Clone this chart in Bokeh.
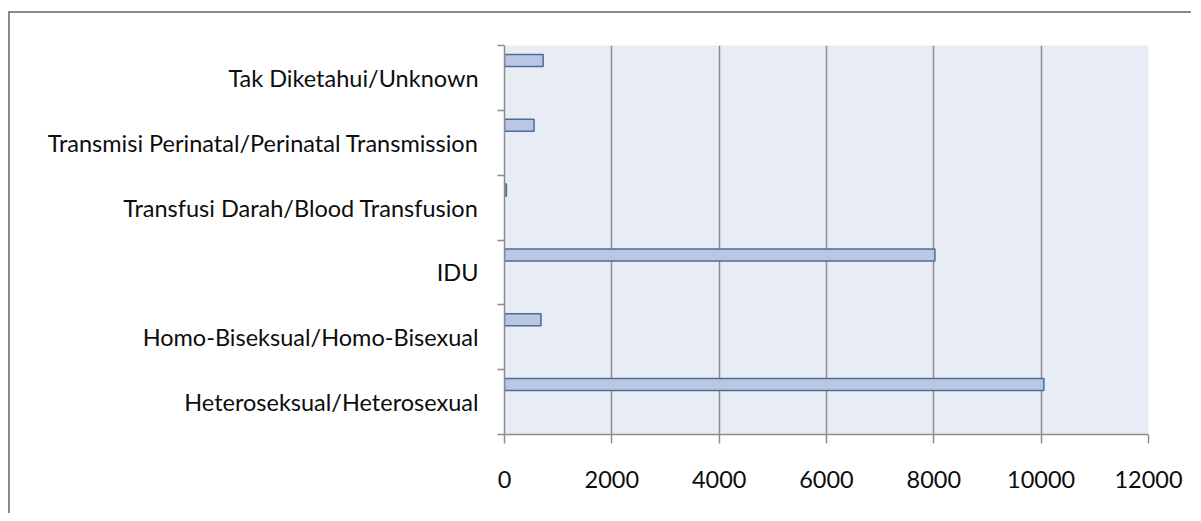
from bokeh.plotting import figure
from bokeh.models import Range1d, FixedTicker, ColumnDataSource
from bokeh.embed import file_html
from bokeh.resources import INLINE

# ---- data ----
categories = [
    "Heteroseksual/Heterosexual",
    "Homo-Biseksual/Homo-Bisexual",
    "IDU",
    "Transfusi Darah/Blood Transfusion",
    "Transmisi Perinatal/Perinatal Transmission",
    "Tak Diketahui/Unknown",
]
values = [10050, 680, 8020, 35, 550, 720]
x_ticks = [0, 2000, 4000, 6000, 8000, 10000, 12000]

FONT = "Lato"
n = len(categories)
centers = [i + 0.5 for i in range(n)]
boundaries = list(range(n + 1))
bar_offset = 0.27
src = ColumnDataSource(dict(y=[c + bar_offset for c in centers], right=values, cat=categories))

p = figure(
    frame_width=644, frame_height=389,
    x_range=Range1d(0, 12000), y_range=Range1d(0, n),
    output_backend="svg", toolbar_location=None,
    min_border_left=494, min_border_top=32, min_border_right=43, min_border_bottom=79,
    background_fill_color="#E8ECF4", border_fill_color="white",
)
p.outline_line_color = None
p.styles = {"border-top": "2px solid #8a8a8a", "border-left": "2px solid #8a8a8a",
            "margin-top": "11px", "margin-left": "8px"}

p.hbar(y="y", left=0, right="right", height=0.185, source=src,
       fill_color="#B9C7E2", line_color="#4D6B9C", line_width=1.5)

# x axis
xa = p.xaxis[0]
xa.ticker = FixedTicker(ticks=x_ticks, minor_ticks=[])
xa.axis_line_color = "#8c8c8c"
xa.axis_line_width = 1.5
xa.major_tick_line_color = "#8c8c8c"
xa.major_tick_line_width = 1.5
xa.major_tick_out = 9
xa.major_tick_in = 0
xa.minor_tick_line_color = None
xa.major_label_text_font = FONT
xa.major_label_text_font_size = "23.5px"
xa.major_label_text_color = "#0d0d0d"
xa.major_label_standoff = 27

# y axis: labels at centers, tick marks at boundaries
ya = p.yaxis[0]
ya.ticker = FixedTicker(ticks=centers, minor_ticks=boundaries)
ya.major_label_overrides = {c: lab for c, lab in zip(centers, categories)}
ya.major_tick_out = 0
ya.major_tick_in = 0
ya.major_tick_line_color = None
ya.minor_tick_out = 7
ya.minor_tick_in = 0
ya.minor_tick_line_color = "#8c8c8c"
ya.minor_tick_line_width = 1.5
ya.axis_line_color = "#8c8c8c"
ya.axis_line_width = 1.5
ya.major_label_text_font = FONT
ya.major_label_text_font_size = "23.5px"
ya.major_label_text_color = "#0d0d0d"
ya.major_label_standoff = 19

p.xgrid.ticker = FixedTicker(ticks=x_ticks[1:])
p.xgrid.grid_line_color = "#8c8c8c"
p.xgrid.grid_line_width = 1.5
p.ygrid.grid_line_color = None

open("out.html", "w").write(file_html(p, INLINE))
